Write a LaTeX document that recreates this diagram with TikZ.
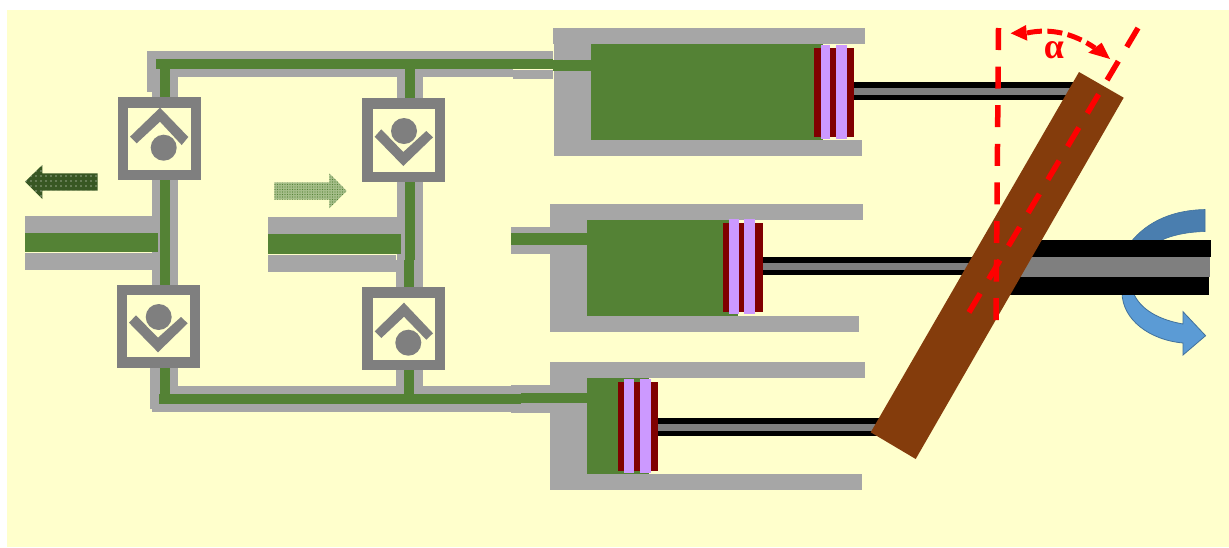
\documentclass[tikz,border=0pt]{standalone}
\usepackage{fontspec}
\setmainfont{Liberation Serif}
\usetikzlibrary{patterns.meta}
\definecolor{cream}{HTML}{FFFFCC}
\definecolor{pipegray}{HTML}{A6A6A6}
\definecolor{valvegray}{HTML}{7F7F7F}
\definecolor{oilgreen}{HTML}{548235}
\definecolor{darkoil}{HTML}{385723}
\definecolor{lightoil}{HTML}{A6BE8A}
\definecolor{pistonred}{HTML}{800000}
\definecolor{sealpurple}{HTML}{CC99FF}
\definecolor{platebrown}{HTML}{843C0C}
\definecolor{arrowtop}{HTML}{4A7EAF}
\definecolor{arrowlow}{HTML}{5B9BD5}
\definecolor{arrowedge}{HTML}{41719C}
\tikzset{
  wall/.style={fill=pipegray,draw=none},
  oil/.style={fill=oilgreen,draw=none},
  body/.style={fill=valvegray,draw=none},
  hole/.style={fill=cream,draw=none},
  piston/.style={fill=pistonred,draw=none},
  seal/.style={fill=sealpurple,draw=none},
  rodblack/.style={fill=black,draw=none},
  redline/.style={draw=red,line width=5.5pt,dash pattern=on 22pt off 16.6pt},
}
\newcommand{\valvebox}[4]{%
  \fill[body] (#1,#3) rectangle (#2,#4);
  \fill[hole] (#1+10.5,#3+10.5) rectangle (#2-10.5,#4-10.5);}
\begin{document}
\begin{tikzpicture}[x=1pt,y=-1pt]
\useasboundingbox (0,0) rectangle (1229,547);
\fill[white] (0,0) rectangle (1229,547);
\fill[cream] (7,10) rectangle (1229,547);
% ---- gray pipes
\fill[wall] (147,51) rectangle (553,59);
\fill[wall] (147,51) rectangle (156,92);
\fill[wall] (152,69) rectangle (178,97);
\fill[wall] (156,69) rectangle (513,77);
\fill[wall] (513,70) rectangle (553,79);
\fill[wall] (397,69) rectangle (423,99);
\fill[wall] (25,216) rectangle (152,233);
\fill[wall] (25,253) rectangle (152,270);
\fill[wall] (152,180) rectangle (178,285);
\fill[wall] (268,217) rectangle (397,234);
\fill[wall] (268,255) rectangle (396,272);
\fill[wall] (397,182) rectangle (423,260);
\fill[wall] (396,260) rectangle (423,287);
\fill[wall] (150,367) rectangle (159,409);
\fill[wall] (159,367) rectangle (178,395);
\fill[wall] (178,386) rectangle (511,394);
\fill[wall] (152,404) rectangle (511,412);
\fill[wall] (396,370) rectangle (423,394);
\fill[wall] (511,385) rectangle (550,413);
\fill[wall] (511,227) rectangle (550,254);
% ---- cylinders
\fill[wall] (553,28) rectangle (865,44);
\fill[wall] (554,28) rectangle (591,156);
\fill[wall] (554,140) rectangle (862,156);
\fill[wall] (550,204) rectangle (863,220);
\fill[wall] (550,204) rectangle (587,332);
\fill[wall] (550,316) rectangle (859,332);
\fill[wall] (550,362) rectangle (865,378);
\fill[wall] (550,362) rectangle (587,490);
\fill[wall] (550,474) rectangle (862,490);
% ---- oil
\fill[oil] (156,59) rectangle (553,69);
\fill[oil] (553,60) rectangle (591,70.5);
\fill[oil] (160,69) rectangle (170,97);
\fill[oil] (405,69) rectangle (415,99);
\fill[oil] (160,180) rectangle (170,285);
\fill[oil] (405,182) rectangle (415,260);
\fill[oil] (404,260) rectangle (414,287);
\fill[oil] (160,367) rectangle (170,394);
\fill[oil] (404,370) rectangle (414,394);
\fill[oil] (159,394) rectangle (521,404);
\fill[oil] (521,393) rectangle (587,403);
\fill[oil] (25,233) rectangle (158,252);
\fill[oil] (268,234) rectangle (401,254);
\fill[oil] (511,233) rectangle (587,245);
\fill[oil] (591,44) rectangle (823,140);
\fill[oil] (587,220) rectangle (738,316);
\fill[oil] (587,378) rectangle (649,474);
% ---- flow arrows
\path[fill=darkoil] (25,181.7) -- (42.3,165) -- (42.3,173.3) -- (97.7,173.3) -- (97.7,190.7) -- (42.3,190.7) -- (42.3,199) -- cycle;
\path[pattern={Dots[distance=5pt,radius=.55pt,xshift=1pt,yshift=1pt]},pattern color=white] (25,181.7) -- (42.3,165) -- (42.3,173.3) -- (97.7,173.3) -- (97.7,190.7) -- (42.3,190.7) -- (42.3,199) -- cycle;
\path[fill=lightoil] (274.3,182.3) -- (329.3,182.3) -- (329.3,173.3) -- (346.7,191) -- (329.3,208.3) -- (329.3,199.7) -- (274.3,199.7) -- cycle;
\path[pattern={Dots[distance=2.5pt,radius=.6pt]},pattern color=oilgreen] (274.3,182.3) -- (329.3,182.3) -- (329.3,173.3) -- (346.7,191) -- (329.3,208.3) -- (329.3,199.7) -- (274.3,199.7) -- cycle;
% ---- valves
\valvebox{117.5}{201}{97}{180}
\fill[body] (160,107.7) -- (188.3,137) -- (181.7,145) -- (160,121.7) -- (136.7,143.3) -- (130,136.7) -- cycle;
\fill[body] (163.7,147.7) circle[radius=13];
\valvebox{116.5}{200}{284.7}{367.7}
\fill[body] (158,352.3) -- (187.7,323.3) -- (181,317) -- (158,337.7) -- (136,315.3) -- (129,322.7) -- cycle;
\fill[body] (158.7,317) circle[radius=13];
\valvebox{362}{445.3}{98.3}{182}
\fill[body] (403.3,166) -- (433,137.3) -- (426.3,131) -- (403.3,152) -- (381.3,129.3) -- (374.7,136.7) -- cycle;
\fill[body] (404,131) circle[radius=13];
\valvebox{362}{445.3}{287}{370.3}
\fill[body] (404,302.7) -- (433,333.3) -- (426.3,339.7) -- (404,316.7) -- (381.3,338) -- (374.7,331.3) -- cycle;
\fill[body] (408.3,342.7) circle[radius=13];
% ---- rotation arrows
\fill[arrowtop,draw=arrowedge,line width=.6pt] (1205,209.5) .. controls (1175,210) and (1148,220) .. (1130,243) -- (1156,243) .. controls (1168,236) and (1185,232) .. (1205,231.5) -- cycle;
\fill[arrowlow,draw=arrowedge,line width=.8pt] (1122,292) .. controls (1122,320) and (1150,340) .. (1183,343) -- (1183,355) -- (1205.6,335.7) -- (1183,311.7) -- (1183,324) .. controls (1160,320) and (1140,310) .. (1133,292) -- cycle;
% ---- rods and shaft
\fill[rodblack] (854,82) rectangle (1090,100);
\fill[valvegray] (854,88) rectangle (1090,95);
\fill[rodblack] (763,257) rectangle (1000,275);
\fill[valvegray] (763,263) rectangle (1000,270);
\fill[rodblack] (658,418) rectangle (890,436);
\fill[valvegray] (658,424) rectangle (890,431);
\fill[rodblack] (1000,240) rectangle (1211,257);
\fill[rodblack] (1000,277) rectangle (1209,295);
\fill[valvegray] (1000,257) rectangle (1210,277);
% ---- pistons
\fill[piston] (814,48) rectangle (854,137);
\fill[seal] (821,45) rectangle (830,139);
\fill[seal] (836,45) rectangle (847,139);
\fill[piston] (723,223) rectangle (763,312);
\fill[seal] (729,219) rectangle (739,314);
\fill[seal] (744,219) rectangle (755,314);
\fill[piston] (618,382) rectangle (658,471);
\fill[seal] (624,379) rectangle (634,473);
\fill[seal] (640,379) rectangle (651,473);
% ---- swash plate
\fill[platebrown] (1079,72) -- (1123.7,97.7) -- (915.7,459) -- (870.7,432.3) -- cycle;
% ---- angle
\draw[redline] (998.5,28) -- (996,321);
\draw[redline] (1138,28) -- (968,314);
\draw[draw=red,line width=5pt,dash pattern=on 15pt off 5.5pt] (1027,33) .. controls (1050,28) and (1073,33) .. (1095,48);
\fill[red] (1010.7,33.3) -- (1026,25) -- (1027.3,40.7) -- cycle;
\fill[red] (1110,59) -- (1101.7,42.7) -- (1088.3,52.7) -- cycle;
\node[text=red,font=\fontsize{36}{36}\selectfont\bfseries,inner sep=0pt] (alpha) at (1054,50) {α};
\end{tikzpicture}
\end{document}
